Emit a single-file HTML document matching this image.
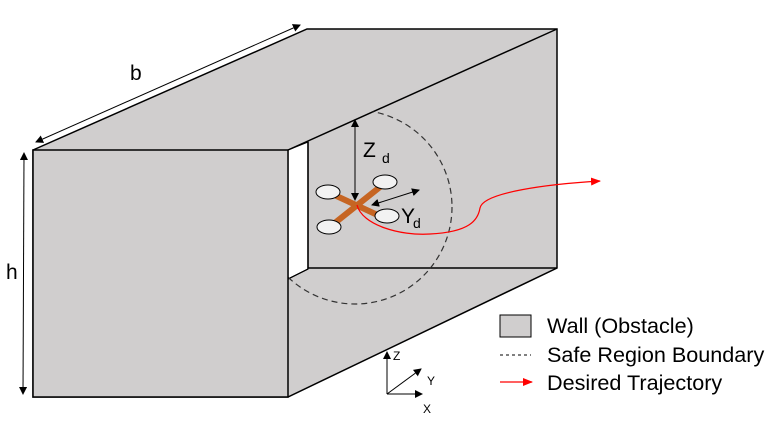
<!DOCTYPE html>
<html><head><style>body{margin:0;background:#fff}svg{display:block}</style></head><body>
<svg width="777" height="427" viewBox="0 0 777 427" xmlns="http://www.w3.org/2000/svg" font-family="Liberation Sans, sans-serif">
<defs>
<marker id="a" markerWidth="8" markerHeight="8" refX="7" refY="4" orient="auto-start-reverse" markerUnits="userSpaceOnUse"><path d="M0,0L8,4L0,8z" fill="#000"/></marker>
<marker id="r" markerWidth="10" markerHeight="8" refX="9" refY="4" orient="auto" markerUnits="userSpaceOnUse"><path d="M0,0L10,4L0,8z" fill="#f00"/></marker>
<clipPath id="c"><polygon points="288,150 557,29 777,29 777,427 288,427"/></clipPath>
</defs>
<polygon points="33,150 307,29 557,29 557,268 288,397 33,397" fill="#d0cece" stroke="#000" stroke-width="1.5"/>
<polygon points="288,150 308,142 308,269 288,279" fill="#fff" stroke="#000" stroke-width="1.2"/>
<polyline points="308,142 308,268 557,268" fill="none" stroke="#000" stroke-width="1.5"/>
<line x1="288" y1="150" x2="557" y2="29" stroke="#000" stroke-width="1.5"/>
<line x1="288" y1="279" x2="308" y2="269" stroke="#000" stroke-width="1.2"/>
<circle cx="355" cy="207" r="97" fill="none" stroke="#333" stroke-width="1.2" stroke-dasharray="6,4" clip-path="url(#c)"/>
<rect x="33" y="150" width="255" height="247" fill="#d0cece" stroke="#000" stroke-width="1.5"/>
<line x1="36" y1="142" x2="300" y2="25" stroke="#000" stroke-width="1" marker-start="url(#a)" marker-end="url(#a)"/>
<text x="130" y="80" font-size="21">b</text>
<line x1="24" y1="153" x2="23" y2="394" stroke="#000" stroke-width="1" marker-start="url(#a)" marker-end="url(#a)"/>
<text x="6" y="279" font-size="21">h</text>
<g stroke="#c55a11" stroke-width="6" stroke-linecap="round" opacity="0.9">
<line x1="330" y1="193" x2="384" y2="218"/><line x1="385" y1="183" x2="331" y2="226"/>
</g>
<g fill="#f2f2f2" stroke="#000" stroke-width="1">
<ellipse cx="328" cy="192" rx="12" ry="7"/><ellipse cx="385" cy="182" rx="12" ry="7"/>
<ellipse cx="329" cy="227" rx="12" ry="7"/><ellipse cx="387" cy="216" rx="12" ry="7"/>
</g>
<line x1="355" y1="120" x2="355" y2="200" stroke="#000" stroke-width="1" marker-start="url(#a)" marker-end="url(#a)"/>
<text x="363" y="157" font-size="21">Z</text><text x="382" y="163" font-size="14">d</text>
<line x1="372" y1="205" x2="419" y2="190" stroke="#000" stroke-width="1" marker-start="url(#a)" marker-end="url(#a)"/>
<text x="401" y="223" font-size="21">Y</text><text x="413" y="228" font-size="14">d</text>
<path d="M357,205 C362,225 400,236 430,234 C470,232 478,220 480,208 C483,192 550,184 600,181" fill="none" stroke="#f00" stroke-width="1.2" marker-end="url(#r)"/>
<rect x="500" y="315" width="31" height="22" fill="#d0cece" stroke="#000" stroke-width="1"/>
<text x="547" y="333" font-size="21.6">Wall (Obstacle)</text>
<line x1="500" y1="355" x2="531" y2="355" stroke="#000" stroke-width="1" stroke-dasharray="3,3"/>
<text x="547" y="362" font-size="21.6">Safe Region Boundary</text>
<line x1="500" y1="382" x2="532" y2="382" stroke="#f00" stroke-width="1.2" marker-end="url(#r)"/>
<text x="547" y="390" font-size="21.6">Desired Trajectory</text>
<g stroke="#000" stroke-width="1">
<line x1="387" y1="394" x2="387" y2="352" marker-end="url(#a)"/>
<line x1="387" y1="394" x2="422" y2="394" marker-end="url(#a)"/>
<line x1="387" y1="394" x2="421" y2="369" marker-end="url(#a)"/>
</g>
<text x="393" y="360" font-size="12">Z</text>
<text x="427" y="385" font-size="12">Y</text>
<text x="423" y="413" font-size="12">X</text>
</svg>
</body></html>
